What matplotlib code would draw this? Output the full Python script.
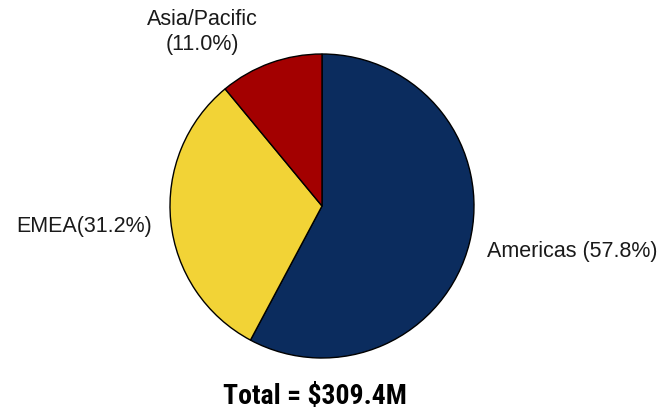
import matplotlib.pyplot as plt
from matplotlib import font_manager

regions = ["Americas", "EMEA", "Asia/Pacific"]
shares = [57.8, 31.2, 11.0]
colors = ["#0B2C5E", "#F2D336", "#A30000"]
total_label = "Total = $309.4M"

# look for a condensed bold face for the total line
fonts = font_manager.fontManager.ttflist
total_font = None
for f in fonts:
    if f.name in ("Liberation Sans Narrow", "Roboto Condensed", "Open Sans Condensed"):
        total_font = dict(family=f.name)
        break
if total_font is None:
    for f in fonts:
        if f.name == "DejaVu Sans" and "condensed" in str(f.stretch):
            total_font = dict(family="DejaVu Sans", stretch="condensed")
            break
if total_font is None:
    total_font = dict(family="Liberation Sans", fontsize=16)
else:
    total_font["fontsize"] = 20

fig = plt.figure(figsize=(6.59, 4.10), dpi=100)
W, H = 659, 410
cx, cy, r = 322, 207, 152
ax = fig.add_axes([(cx - r) / W, (H - cy - r) / H, 2 * r / W, 2 * r / H])

ax.pie(shares, colors=colors, startangle=90, counterclock=False,
       wedgeprops=dict(edgecolor="black", linewidth=1.0))
ax.set_xlim(-1, 1)
ax.set_ylim(-1, 1)
ax.set_aspect("equal")
ax.axis("off")

lab_kw = dict(fontsize=15.5, color="#1a1a1a", family="Liberation Sans",
              va="baseline", clip_on=False)
ax.text(1.086, -0.329, f"{regions[0]} ({shares[0]:.1f}%)", ha="left", **lab_kw)
ax.text(-1.118, -0.164, f"{regions[1]}({shares[1]:.1f}%)", ha="right", **lab_kw)
ax.text(-0.79, 1.197, regions[2], ha="center", **lab_kw)
ax.text(-0.79, 1.033, f"({shares[2]:.1f}%)", ha="center", **lab_kw)

fig.text(315 / W, 1 - 404 / H, total_label, ha="center", va="baseline",
         fontweight="bold", color="black", **total_font)

fig.savefig("out.png", dpi=100, facecolor="white")
